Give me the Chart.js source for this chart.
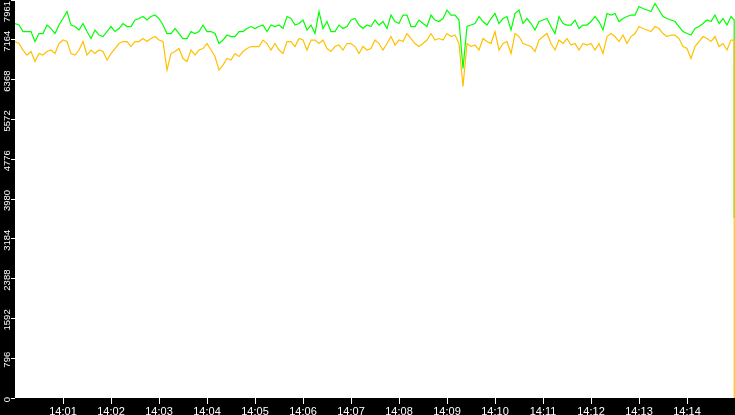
<!DOCTYPE html>
<html>
<head>
<meta charset="utf-8">
<script src="https://cdn.jsdelivr.net/npm/chart.js@4.4.1/dist/chart.umd.min.js"></script>
<style>
    html, body { margin: 0; padding: 0; background: #000; }
    canvas { display: block; }
</style>
</head>
<body>
<canvas id="rateChart" width="735" height="415"></canvas>
<script>
// --- Data (one sample every 5 s from 14:00:00) ---
const sampleSeconds = 5;

const greenValues = [
    7490,7460,7330,7330,7330,7130,7290,7290,7460,7390,7290,7460,7590,7730,7460,7430,7360,7490,7330,7190,7360,7260,7230,7330,7430,7330,7390,7490,7430,7430,7560,
    7590,7630,7560,7630,7660,7590,7460,7290,7290,7390,7290,7190,7190,7330,7290,7330,7460,7330,7330,7290,7090,7160,7260,7230,7230,7330,7330,7390,7430,7390,
    7430,7460,7330,7460,7430,7460,7390,7630,7590,7460,7490,7560,7360,7460,7290,7730,7390,7530,7330,7330,7460,7390,7430,7560,7590,7460,7390,7460,7430,7560,
    7460,7530,7390,7660,7530,7490,7660,7660,7430,7430,7560,7490,7430,7660,7560,7530,7590,7760,7660,7660,7560,6590,7430,7460,7490,7630,7530,7460,7590,7690,
    7490,7590,7630,7360,7690,7760,7490,7590,7490,7360,7530,7560,7590,7430,7290,7630,7490,7460,7460,7560,7390,7460,7460,7530,7630,7530,7360,7690,7660,7690,
    7530,7590,7630,7660,7660,7830,7790,7760,7730,7890,7760,7630,7590,7560,7530,7430,7330,7290,7260,7390,7430,7490,7560,7530,7660,7490,7590,7460,7630,7560
];

const orangeValues = [
    7130,7090,6960,6860,6930,6730,6890,6860,6930,6960,6890,7090,7160,7130,6890,6860,6960,7130,6860,6960,6890,6960,6930,6760,6890,6990,7090,7130,7130,7030,7130,
    7130,7190,7130,7190,7230,7160,7130,6560,6890,6930,6990,6790,6730,6960,6860,6960,6990,7090,6960,6830,6560,6660,6790,6760,6890,6830,6930,6990,7030,7030,
    7030,7160,7090,6960,7090,6960,6890,7130,7130,7030,7190,7160,6960,7160,7160,7090,7160,6990,6930,7030,7060,6960,7090,7090,7030,6890,7030,6960,6990,7160,
    7090,6960,7090,7230,7060,7160,7130,7290,7190,7090,7030,7090,7160,7290,7160,7190,7160,7290,7230,7260,7090,6230,7090,7030,7060,6960,7190,7130,7090,7330,
    6960,7090,7130,6890,7290,7230,7090,7060,7030,6930,7160,7230,7290,7090,6960,7160,7090,7190,7060,7090,6960,7090,7060,7090,6960,7090,6890,7230,7290,7230,
    7130,7260,7090,7230,7290,7430,7390,7360,7330,7430,7390,7290,7230,7260,7260,7190,7030,6990,6790,7030,7130,7230,7190,7130,7230,7030,7090,6960,7160,7160
];

// last sample of each series, where the lines fall away at the right edge
const endSecond = 899;
const greenEnd = 3600;
const orangeEnd = 0;

const xTickLabels = ['14:01','14:02','14:03','14:04','14:05','14:06','14:07','14:08','14:09','14:10','14:11','14:12','14:13','14:14'];
const yTickLabels = ['0','796','1592','2388','3184','3980','4776','5572','6368','7164','7961'];
const yMax = 7961;
const xMax = 900;

// --- Build points ---
function toPoints(values, endValue) {
    const pts = values.map((v, i) => ({ x: Math.min(i * sampleSeconds, endSecond), y: v }));
    pts.push({ x: endSecond, y: endValue });
    return pts;
}

// --- Black frame, white plot area ---
const framePlugin = {
    id: 'frame',
    beforeDraw(chart) {
        const ctx = chart.ctx;
        const a = chart.chartArea;
        ctx.save();
        ctx.fillStyle = '#000';
        ctx.fillRect(0, 0, chart.width, chart.height);
        ctx.fillStyle = '#fff';
        ctx.fillRect(a.left, a.top, a.right - a.left, a.bottom - a.top);
        ctx.restore();
    },
    // y labels run upwards inside the narrow strip
    afterDraw(chart) {
        const ctx = chart.ctx;
        const scale = chart.scales.y;
        ctx.save();
        ctx.fillStyle = '#fff';
        ctx.font = '9.5px "Liberation Sans", Arial, sans-serif';
        ctx.textAlign = 'center';
        ctx.textBaseline = 'alphabetic';
        scale.ticks.forEach((t, i) => {
            const label = yTickLabels[i];
            const w = ctx.measureText(label).width;
            let cy = scale.getPixelForValue(t.value) + 1.5;
            cy = Math.max(cy, w / 2 + 1);
            ctx.save();
            ctx.translate(9.5, cy);
            ctx.rotate(-Math.PI / 2);
            ctx.fillText(label, 0, 0);
            ctx.restore();
        });
        ctx.restore();
    }
};

const ctx = document.getElementById('rateChart').getContext('2d');
new Chart(ctx, {
    type: 'line',
    data: {
        datasets: [
            {
                data: toPoints(greenValues, greenEnd),
                borderColor: '#00ff00',
                borderWidth: 1.2,
                pointRadius: 0,
                tension: 0,
                order: 2
            },
            {
                data: toPoints(orangeValues, orangeEnd),
                borderColor: '#ffc000',
                borderWidth: 1.2,
                pointRadius: 0,
                tension: 0,
                order: 1
            }
        ]
    },
    options: {
        responsive: false,
        animation: false,
        layout: { padding: 0 },
        plugins: {
            legend: { display: false },
            tooltip: { enabled: false }
        },
        scales: {
            x: {
                type: 'linear',
                min: 0,
                max: xMax,
                afterBuildTicks: s => { s.ticks = xTickLabels.map((_, i) => ({ value: (i + 1) * 60 })); },
                afterFit: s => { s.height = 17; },
                border: { display: false },
                grid: { drawOnChartArea: false, drawTicks: true, tickLength: 6, color: '#fff' },
                ticks: {
                    color: '#fff',
                    padding: 1,
                    maxRotation: 0,
                    autoSkip: false,
                    font: { family: '"Liberation Sans", Arial, sans-serif', size: 11 },
                    callback: (v, i) => xTickLabels[i]
                }
            },
            y: {
                min: 0,
                max: yMax,
                afterBuildTicks: s => { s.ticks = yTickLabels.map((_, i) => ({ value: yMax * i / 10 })); },
                afterFit: s => { s.width = 15; },
                border: { display: false },
                grid: { drawOnChartArea: false, drawTicks: true, tickLength: 4, color: '#fff' },
                ticks: { display: false }
            }
        }
    },
    plugins: [framePlugin]
});
</script>
</body>
</html>
